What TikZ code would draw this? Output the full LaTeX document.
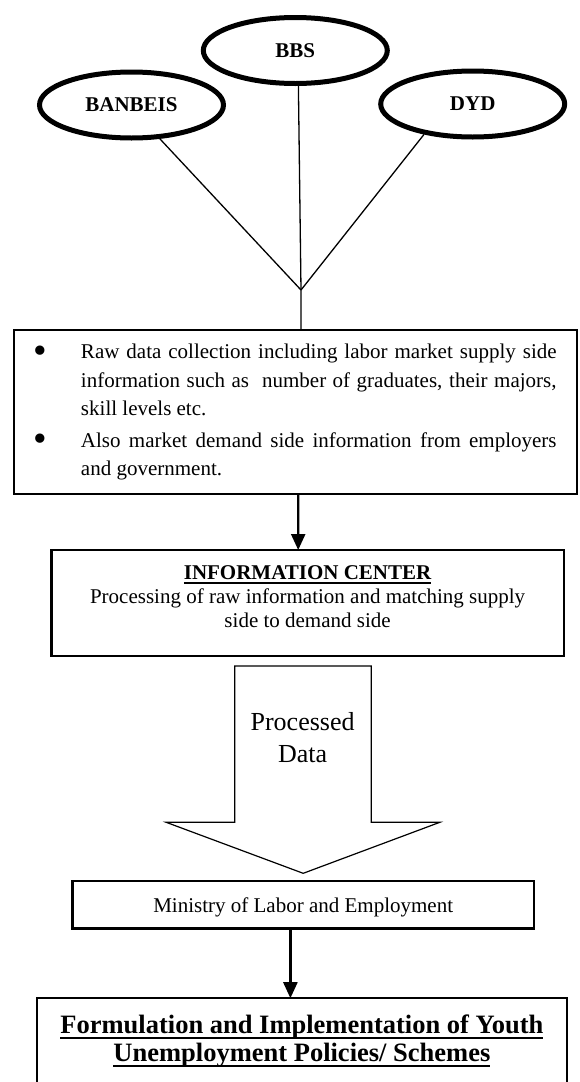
\documentclass[tikz,border=0pt]{standalone}
\usepackage{fontspec}
\setmainfont{Liberation Serif}
\usepackage{tikz}
\usetikzlibrary{shapes.geometric,positioning,arrows.meta}

\newcommand{\undertext}[1]{\leavevmode\setbox0\hbox{#1}\rlap{\rule[-0.2em]{\wd0}{0.08em}}\box0}
\newcommand{\bulletitem}{\hangindent=47pt\hangafter=0\noindent\llap{\makebox[47pt][l]{\raisebox{-4.4pt}{\scalebox{1.85}{\textbullet}}}}}

\begin{document}
\begin{tikzpicture}[x=1pt, y=1pt, >={Triangle[length=16pt,width=14pt]},
		agency/.style={ellipse, draw, line width=5pt, minimum width=184pt, minimum height=66pt, inner sep=0pt, font=\fontsize{21}{24}\selectfont\bfseries},
		infobox/.style={rectangle, draw, line width=2.5pt, inner sep=0pt, outer sep=0pt, font=\fontsize{21}{24}\selectfont},
		link/.style={line width=1.3pt},
		flow/.style={->, line width=2.4pt},
		bigarrow/.style={draw, line width=1.2pt}]

		\useasboundingbox (0,0) rectangle (579,-1082);
		\clip (0,0) rectangle (579,-1082);

		\node[agency] (bbs) at (295.3,-50.5) {BBS};
		\node[agency] (banbeis) at (131.5,-105) {BANBEIS};
		\node[agency] (dyd) at (472.7,-104) {DYD};
		\coordinate (hub) at (301,-290);

		\node[infobox, minimum width=563pt, minimum height=164pt] (raw) [below=244pt of bbs] {\begin{minipage}{522.6pt}\fontsize{21}{28.3}\selectfont
			\bulletitem Raw data collection including labor market supply side\linebreak information such as\ \ number of graduates, their majors,\linebreak skill levels etc.\par
			\vspace{3.4pt}
			\bulletitem Also market demand side information from employers\linebreak and government.\par
		\end{minipage}};

		\node[infobox, minimum width=512.5pt, minimum height=106pt, align=center] (info) [below=56pt of raw, xshift=12.3pt] {\textbf{\undertext{INFORMATION CENTER}}\\Processing of raw information and matching supply\\side to demand side\rule[-12pt]{0pt}{12pt}};

		\node[inner sep=0pt, align=center, font=\fontsize{26}{31.7}\selectfont] (pd) [below=56.2pt of info, xshift=-5pt] {Processed\\Data};

		\node[infobox, minimum width=461.5pt, minimum height=47.5pt, text depth=0pt] (mole) [below=225pt of info, xshift=-4.4pt] {Ministry of Labor and Employment};

		\node[infobox, line width=2.2pt, minimum width=529.8pt, minimum height=86pt, align=center, font=\fontsize{26.5}{28}\selectfont\bfseries] (policy) [below=69.7pt of mole, xshift=-1.3pt] {\undertext{Formulation and Implementation of Youth}\\\undertext{Unemployment Policies/ Schemes}};

		\draw[link] (banbeis.310) -- (hub);
		\draw[link] (dyd.212) -- (hub);
		\draw[link] (bbs.275) -- (hub) -- (hub |- raw.north);

		\draw[flow] ([xshift=2.9pt]raw.south) -- ([xshift=-9.4pt]info.north);
		\draw[bigarrow] ([yshift=7.7pt]mole.north) -- ++(-137,51) -- ++(68.5,0) -- ++(0,156.3) -- ++(136.6,0) -- ++(0,-156.3) -- ++(68.5,0) -- cycle;
		\draw[flow] ([xshift=-12.8pt]mole.south) -- ([xshift=-11.5pt]policy.north);
	\end{tikzpicture}
\end{document}
